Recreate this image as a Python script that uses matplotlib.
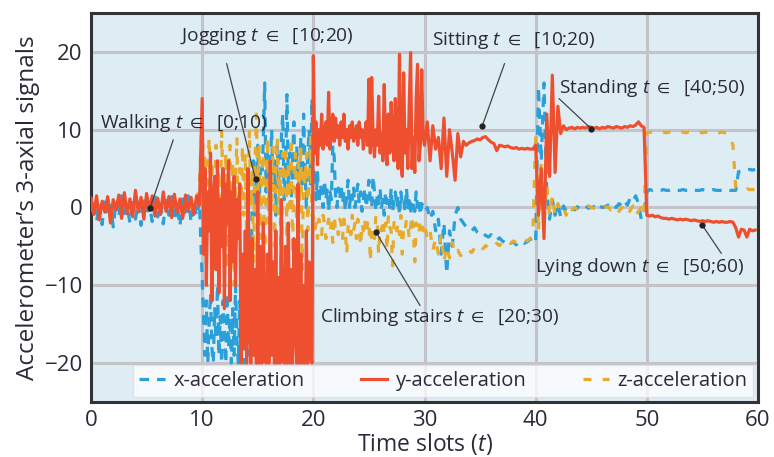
import numpy as np
import matplotlib.pyplot as plt

plt.rcParams['font.family'] = ['Open Sans', 'DejaVu Sans']
plt.rcParams['mathtext.fontset'] = 'custom'
plt.rcParams['mathtext.rm'] = 'Open Sans'
plt.rcParams['mathtext.it'] = 'Open Sans:italic'
plt.rcParams['mathtext.fallback'] = 'stixsans'

# 每个活动占 10 个时隙, 各段采样点数不同
SEG_LEN = 10

# walking [0;10)
x_walk = [-0.5, 1.0, -1.8, 0.5, -2.2, 1.2, -1.0, 0.3, -2.5, 0.8, -1.2, 1.5, -0.8, 0.2, -2.0, 1.0, -1.5, 0.6, -2.3, 1.3,
          -0.9, 0.4, -1.8, 1.6, -1.2, 0.5, -2.1, 0.9, -1.0, 1.4, -1.7, 0.3, -2.4, 1.1, -0.6, 1.5, -1.9, 0.7, -1.1, 0.8]
y_walk = [1.2, -0.9, 1.5, -1.6, 0.8, -0.6, 1.4, -2.0, 1.0, -0.3, 1.6, -1.4, 1.9, -0.8, 1.1, -1.2, 2.2, -0.6, 1.3, -1.5,
          1.8, -0.4, 1.5, -1.1, 1.2, -0.9, 2.0, -0.5, 1.4, -1.3, 1.7, -0.6, 1.1, -1.4, 1.6, -0.5, 1.3, -0.9, 1.5, 0.3]
z_walk = [0.5, 0.2, 0.9, -0.4, 0.6, 0.1, 1.0, -0.3, 0.7, 0.3, 0.8, -0.2, 1.1, 0.0, 0.6, -0.5, 1.2, 0.2, 0.7, -0.4,
          0.9, 0.1, 0.8, -0.3, 0.6, 0.0, 1.0, -0.2, 0.7, -0.4, 0.9, 0.1, 0.5, -0.3, 0.8, 0.2, 0.6, -0.1, 0.9, 3.0]

# jogging [10;20)
x_jog = [-9, -14, -19, -12, -20, -15, -11, -18, -20, -13, -17, -10, -19, -14, -20, -12, -16, -20, -11, -18,
         -14, -20, -13, -19, -10, -17, -20, -12, -18, -15, -20, -13, -17, -11, -19, -14,
         2, 6, -1, 4, 8, 1, 5, 3, 9, 16, 2, 7, 0, 5, 10, 3, 6, -1, 8, 4,
         2, 9, 12, 1, 5, 14.5, 3, 7, 0, 6, 11, 2, 8, 4, 1, 9, 3, 12, 5, 0, 7, 10, 3, 14]
y_jog = [14, -6, 5, -10, 2, -3, 7, -12, 0, 4, -8, 6, -11, 1, -5, 5, -13, 3, -2, 6, -12, 2, -7, 4, -10, 1, -4, 3,
         -20, -6, -18, -3, -20, 5, -15, -20, -4, -19, -8, -20, 2, -20, -5, -20, -2, -17, -20, -6,
         -20, 6, -19, -7, -20, -3, -20, -9, -20, 1, -18, -20, -5, -20, -2, -20, -8, -20, -4, -16,
         -20, 3, -20, -6, -20, -10, -20, -3, -20, -7, -19, -20]
z_jog = [12, 2, 7, -3, 4, 9, 0, 6, -6, 3, 8, 1, 5, -4, 10, 2, -2, 7, -8, 4,
         8, 0, 6, -10, 3, 9, -3, 5, 1, 8, -1, 7, -5, 2, 10, 0, 5, -7, 6, 12,
         1, 8, -4, 4, 7, -9, 3, 9, -2, 6, 0, 8, -5, 4, 9, -1, 5, -11, 7, 2,
         8, -4, 6, 0, 9, -6, 4, 7, -2, 6, 1, 8, -8, 5, 3, 7, -3, 4, 9, -1]

# climbing stairs [20;30)
x_climb = [3, 5, 1, 4.5, 0.5, 3, 2, 0, 3.5, 1, 2.5, -0.5, 2, 1, 8, 6.5, 1.5, 0, 2.5, 1,
           3, 0.5, 2, -0.5, 1.5, 3.5, 0, 2, 1, 2.5, 0, 1.5, 3, 0.5, 2, -0.5, 1, 2.5, 0, 1.5,
           3.5, 1, 0, 4, 2, -0.5, 1.5, 0.5, 2.5, 0, 1, -1, 2, 0.5, 1.5, 0, 2.5, -0.5, 1, 2,
           0, 1.5, -1, 2, 0.5, 1, -0.5, 2.5, 0, 1.5, -1, 1, 0.5, -0.5, 2, 0, 1, -1, 0.5, 0]
y_climb = [19.5, 7, 11, 5.5, 10, 8, 12, 7.5, 9.5, 11, 8, 14.8, 7.5, 10, 12, 8.5, 11.5, 9, 10.5, 8,
           11, 9, 12, 8.5, 10, 7.5, 10.5, 9, 11, 8.5, 9.5, 10.5, 8, 11, 9, 10, 7.5, 9.5, 11, 8,
           16.5, 7, 16.7, 9, 6.5, 10, 8, 14.3, 7, 9.5, 6, 15.8, 8, 5.5, 12, 7, 13.5, 9, 6, 14,
           8, 5, 19.7, 6, 4, 17.3, 7, 10, 5, 13, 19.9, 5, 9, 4.5, 14, 18.4, 6, 8, 17.7, 9]
z_climb = [-1, -3, -2, -4, -1.5, -2.5, -3.5, -1, -2, -4, -2.5, -1.5, -3, -2, -4.5, -1, -3, -2.5, -3.5, -1.5,
           -2, -4, -1.5, -3, -6, -2.5, -2, -3.5, -1, -3, -2, -4, -1.5, -2.5, -5, -2, -3, -1.5, -3.5, -2,
           -1.5, -7, -2.5, -3, -4, -1, -2, -6, -2.5, -3, -1.5, -3.5, -2, -5.5, -1, -2.5, -3, -7.5, -2, -1.5,
           -3, -2, -3.5, -1, -6, -2.5, -3, -1.5, -2, -4, -2.5, -1, -3, -7, -2, -2.5, -3.5, -1.5, -2, -3]

# sitting [30;40)
x_sit = [-0.5, 0, -1.5, -0.5, -3, -1.5, -6, -2, -8.5, -3, -5, -1, 0, -1.5, -2, -2.5, -2.8, -3, -2.6, -3.2,
         -3.5, -3.3, -3.6, -3.8, -3.5, -4, -4.2, -3.9, -4.3, -4.5, -4.2, -4.6, -4.4, -4.8, -4.5, -4.3, -4.6, -4.4, -4.1, -4]
y_sit = [8, 11, 6, 10.5, 7.5, 9, 5, 11.5, 4, 10, 7, 3.5, 9.5, 6.5, 8.5, 8, 8.3, 8.5, 8.6, 8.8,
         8.7, 9.0, 9.1, 8.7, 8.4, 8.2, 7.3, 8.0, 7.9, 7.8, 7.9, 7.7, 7.6, 7.7, 7.5, 7.6, 7.5, 7.6, 7.5, 7.5]
z_sit = [-2, -4, -3, -5.5, -4, -6, -3.5, -7, -5, -6.5, -4.5, -6, -5.5, -6.2, -5.8, -6, -5.5, -5.8, -5.2, -5.5,
         -5, -5.3, -4.9, -5.2, -4.8, -5, -4.6, -4.9, -4.5, -4.8, -4.4, -4.6, -4.3, -4.5, -4.2, -4.4, -4.1, -4.3, -4, -3.5]

# standing [40;50)
x_stand = [-4.5, 15.5, 6, 16, 2, -1.5, 1, -1, 0.5, -1.2, 0.2, -0.5, -0.2, 0, -0.3, 0.1, -0.2, 0, 0.2, -0.1,
           0, 0.1, -0.2, 0.2, 0, 0.1, 0.3, -0.1, 0.2, 0, 0.5, 0.2, 0.8, 0.3, 1.2, 0.8, 1.5, 0.5, -1.5, -0.5]
y_stand = [8, -1, 5, -4, 12, 4, 17, 4.5, 13, 9.5, 10.5, 10, 10.2, 10.3, 10.1, 10.3, 10.2, 10.3, 10.2, 10.4,
           10.3, 10.2, 10.3, 10.1, 10.3, 10.2, 10.4, 10.3, 10.2, 10.4, 10.3, 10.2, 10.4, 10.3, 10.5, 10.4, 10.6, 11, 10.5, 10.3]
z_stand = [9.5, -3, 6, -2, 3, -1, 1.5, -1, 0.5, -0.5, 0, -1, 0.2, -0.3, 0, -0.2, 0.1, -0.1, 0, 0.2,
           0, -0.1, 0.1, 0, -0.2, 0, 0.1, -0.3, 0, 0.2, -0.5, 0, -0.3, -1, -0.4, 0.2, -1, -0.5, 0, -1]

# lying down [50;60)
x_lie = [2.0, 2.3, 2.2, 2.3, 2.2, 2.2, 2.3, 2.2, 2.2, 2.3, 2.2, 2.2, 2.2, 2.3, 2.2, 2.2, 2.3, 2.2, 2.2, 2.2,
         2.3, 2.2, 2.2, 2.2, 2.3, 2.2, 2.2, 2.2, 2.2, 2.3, 2.2, 2.2, 2.2, 4.6, 4.7, 4.8, 4.8, 4.9, 4.8, 4.9]
y_lie = [-1.0, -1.1, -1.0, -1.2, -1.1, -1.3, -1.4, -1.4, -1.5, -1.4, -1.5, -1.6, -1.5, -1.6, -1.5, -1.6, -1.7, -1.6, -1.7, -1.8,
         -1.7, -1.8, -1.7, -1.8, -1.9, -1.8, -1.9, -1.8, -1.9, -1.9, -1.8, -1.9, -2.6, -3.8, -2.8, -2.9, -3.8, -2.8, -3.0, -2.9]
z_lie = [9.6, 9.7, 9.6, 9.7, 9.6, 9.7, 9.7, 9.6, 9.7, 9.6, 9.7, 9.6, 9.7, 9.7, 9.6, 9.7, 9.6, 9.7, 9.6, 9.7,
         9.6, 9.7, 9.6, 9.7, 9.6, 9.7, 9.6, 9.7, 9.6, 9.5, 9.0, 8.0, 2.5, 2.4, 2.3, 2.3, 2.4, 2.3, 2.3, 2.3]

x_segs = [x_walk, x_jog, x_climb, x_sit, x_stand, x_lie]
y_segs = [y_walk, y_jog, y_climb, y_sit, y_stand, y_lie]
z_segs = [z_walk, z_jog, z_climb, z_sit, z_stand, z_lie]

# 每段的时间轴: 段内均匀采样
time = np.concatenate([np.linspace(k * SEG_LEN, (k + 1) * SEG_LEN, len(s), endpoint=False)
                       for k, s in enumerate(x_segs)])
x_acc = np.concatenate(x_segs)
y_acc = np.concatenate(y_segs)
z_acc = np.concatenate(z_segs)

# 注释: 文本, 文本位置, 箭头起点, 箭头终点
labels = [r'Walking $t$ $\in$  [0;10)', r'Jogging $t$ $\in$  [10;20)', r'Sitting $t$ $\in$  [10;20)',
          r'Standing $t$ $\in$  [40;50)', r'Lying down $t$ $\in$  [50;60)', r'Climbing stairs $t$ $\in$  [20;30)']
label_pos = [(0.8, 10.9), (8.0, 22.0), (30.7, 21.4), (42.1, 15.4), (39.9, -7.7), (20.6, -14.1)]
arrow_from = [(7.4, 8.7), (12.2, 18.5), (37.2, 18.5), (42.1, 14.0), (56.7, -5.9), (29.6, -12.6)]
arrow_to = [(5.3, -0.1), (14.8, 3.6), (35.2, 10.5), (45.0, 10.1), (55.0, -2.3), (25.6, -3.1)]

BLUE = '#2a9fd8'
RED = '#ee4f2f'
ORANGE = '#e8aa2a'
TEXT = '#2b2b38'

fig = plt.figure(figsize=(7.74, 4.57), dpi=100)
ax = fig.add_axes([0.1176, 0.1204, 0.8617, 0.8512])
ax.set_facecolor('#deecf4')

lx, = ax.plot(time, x_acc, color=BLUE, lw=2.3, dashes=(3, 2.5), label='x-acceleration', zorder=3)
lz, = ax.plot(time, z_acc, color=ORANGE, lw=2.3, dashes=(2.5, 3.5), label='z-acceleration', zorder=4)
ly, = ax.plot(time, y_acc, color=RED, lw=2.3, label='y-acceleration', zorder=5)

for txt, pos, a0, a1 in zip(labels, label_pos, arrow_from, arrow_to):
    ax.text(pos[0], pos[1], txt, fontsize=13.8, color=TEXT, ha='left', va='center', zorder=7)
    ax.annotate('', xy=a1, xytext=a0,
                arrowprops=dict(arrowstyle='-', color='#444444', lw=0.9, shrinkA=0, shrinkB=0), zorder=7)
    ax.plot(a1[0], a1[1], 'o', color='#222222', ms=3.5, zorder=8)

ax.set_xlim(0, 60)
ax.set_ylim(-25, 25)
ax.set_xticks([0, 10, 20, 30, 40, 50, 60])
ax.set_yticks([-20, -10, 0, 10, 20])
ax.grid(True, color='#c4c4c8', lw=2.2)
ax.set_axisbelow(True)
ax.tick_params(length=0, labelsize=16, colors=TEXT, pad=6)
for s in ax.spines.values():
    s.set_color('#333333')
    s.set_linewidth(2.2)

ax.set_xlabel('Time slots ($t$)', fontsize=16.5, color=TEXT, labelpad=0)
ax.set_ylabel('Accelerometer’s 3-axial signals', fontsize=17.5, color=TEXT, labelpad=3)

leg = ax.legend(handles=[lx, ly, lz], loc='lower left', bbox_to_anchor=(0.063, 0.012, 0.93, 0.09),
                mode='expand', ncol=3, fontsize=14.5, handlelength=1.3, handletextpad=0.4,
                frameon=True, fancybox=False, borderaxespad=0, borderpad=0.3)
leg.get_frame().set_facecolor('white')
leg.get_frame().set_alpha(0.75)
leg.get_frame().set_edgecolor('#dddddd')
leg.set_zorder(9)
for t in leg.get_texts():
    t.set_color(TEXT)

fig.savefig('out.png', dpi=100)
